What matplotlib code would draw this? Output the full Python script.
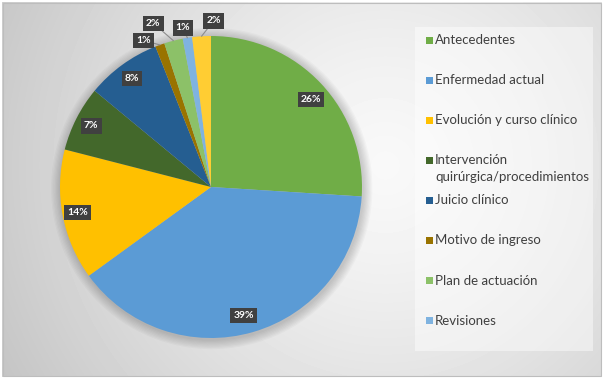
import numpy as np
import matplotlib.pyplot as plt
from matplotlib.patches import Rectangle, Circle

# data
categories = ['Antecedentes', 'Enfermedad actual', 'Evolución y curso clínico',
              'Intervención\nquirúrgica/procedimientos', 'Juicio clínico',
              'Motivo de ingreso', 'Plan de actuación', 'Revisiones',
              'Tratamiento']  # last slice has no entry in the visible legend
shares = [26, 39, 14, 7, 8, 1, 2, 1, 2]
colors = ['#70AD47', '#5B9BD5', '#FFC000', '#43682B', '#255E91',
          '#997300', '#8CC168', '#7FB3E0', '#FFCD33']
n_legend = 8

# label placement (radius in pie units, angle nudge in degrees)
label_r = [0.88, 0.88, 0.90, 0.89, 0.89, 1.07, 1.15, 1.07, 1.10]
label_nudge = [-2, -2, 0, 0, 0, 5, 5, 1, -4.5]

W, H = 604, 379
fig = plt.figure(figsize=(W / 100, H / 100), dpi=100)


def fx(x):
    return x / W


def fy(y):
    return 1 - y / H


# background with soft radial gradient
bg = fig.add_axes([0, 0, 1, 1])
bg.set_axis_off()
yy, xx = np.mgrid[0:H, 0:W]
d = np.hypot(xx - 385, yy - 165) / 430
shade = 0.975 - 0.2 * d ** 1.3
bg.imshow(shade, cmap='gray', vmin=0, vmax=1, extent=[0, W, H, 0], aspect='auto')
bg.set_xlim(0, W)
bg.set_ylim(H, 0)
bg.add_patch(Rectangle((0, 0), W, H, fill=False, ec='white', lw=3))
bg.add_patch(Rectangle((3, 3), 598, 373, fill=False, ec='#BDBDBD', lw=0.8))
# legend panel
bg.add_patch(Rectangle((415, 27), 178, 324, fc='white', alpha=0.45, ec='none'))

# pie
cx, cy, R = 211, 187, 151
ax = fig.add_axes([fx(cx - R), fy(cy + R), 2 * R / W, 2 * R / H])
ax.set_axis_off()

wedges, _ = ax.pie(shares, colors=colors, startangle=90, counterclock=False,
                   radius=1.0, wedgeprops=dict(lw=0))
for w in wedges:
    w.set_zorder(2)
ax.set_xlim(-1, 1)
ax.set_ylim(-1, 1)

# soft shadow around the pie
for k in range(8):
    ax.add_patch(Circle((0.005, -0.01), 1.0 + 0.008 * (k + 1), color='black',
                        alpha=0.025, lw=0, zorder=0, clip_on=False))

for i, w in enumerate(wedges):
    th = np.deg2rad((w.theta1 + w.theta2) / 2)
    th_l = th + np.deg2rad(label_nudge[i])
    r = label_r[i]
    arrow = None
    if r > 1:
        arrow = dict(arrowstyle='-', color='#8C8C8C', lw=0.8,
                     shrinkA=0, shrinkB=0)
    ax.annotate(f'{shares[i]}%', xy=(np.cos(th), np.sin(th)),
                xytext=(r * np.cos(th_l), r * np.sin(th_l)),
                ha='center', va='center', color='white', fontsize=7.5,
                fontweight='bold', family='Lato',
                bbox=dict(boxstyle='square,pad=0.3', fc='#404040', ec='none'),
                arrowprops=arrow, zorder=5, annotation_clip=False)

# legend
for i in range(n_legend):
    y = 40 + 40.1 * i
    bg.add_patch(Rectangle((426, y - 3.5), 7, 7, fc=colors[i], ec='none'))
    for j, line in enumerate(categories[i].split('\n')):
        bg.text(435, y + 17 * j, line, ha='left', va='center',
                fontsize=9.5, color='#404040', family='Lato')

plt.savefig('out.png', dpi=100)
